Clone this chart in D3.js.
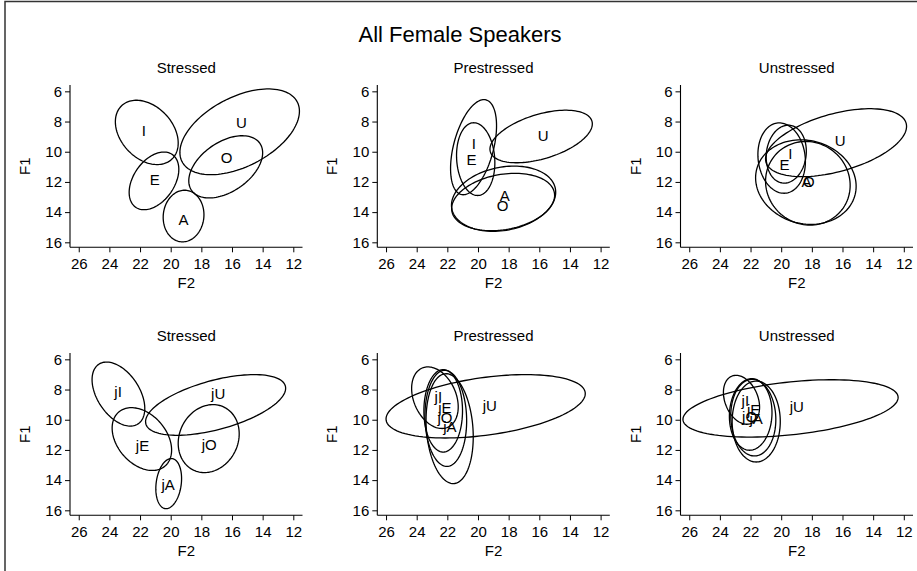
<!DOCTYPE html>
<html>
<head>
<meta charset="utf-8">
<script src="https://cdn.jsdelivr.net/npm/d3@7"></script>
<style>
  body { margin: 0; background: #fff; }
  text { font-family: "Liberation Sans", Arial, Helvetica, sans-serif; fill: #000; }
</style>
</head>
<body>
<svg id="chart" width="917" height="571"></svg>
<script>
// ---- data -------------------------------------------------------------
const chartTitle = "All Female Speakers";
const stressLevels = ["Stressed", "Prestressed", "Unstressed"];
const xTickValues = [26, 24, 22, 20, 18, 16, 14, 12];
const yTickValues = [6, 8, 10, 12, 14, 16];

// columns: vowel, mean F2, mean F1, F2 half-width, F1 half-height,
//          F2/F1 correlation, label F2, label F1
const plainStressed = [
  ["I", 21.56, 8.72, 2.05, 2.13, -0.33, 21.75, 8.60],
  ["E", 21.09, 11.93, 1.62, 1.91, 0.40, 21.04, 11.85],
  ["A", 19.16, 14.26, 1.33, 1.71, 0.05, 19.16, 14.50],
  ["O", 16.41, 11.00, 2.41, 2.06, 0.45, 16.35, 10.37],
  ["U", 15.50, 8.68, 3.90, 2.84, 0.48, 15.38, 8.05]
];
const plainPrestressed = [
  ["I", 20.29, 9.70, 1.50, 3.15, 0.45, 20.27, 9.49],
  ["E", 20.15, 10.49, 1.25, 2.41, -0.10, 20.42, 10.55],
  ["A", 18.33, 13.11, 3.40, 2.16, 0.20, 18.25, 12.90],
  ["O", 18.36, 13.33, 3.36, 1.90, 0.23, 18.40, 13.58],
  ["U", 15.88, 8.99, 3.34, 1.74, 0.48, 15.75, 8.90]
];
const plainUnstressed = [
  ["I", 19.67, 10.16, 1.31, 1.92, 0.10, 19.40, 10.11],
  ["E", 19.97, 10.42, 1.55, 2.33, -0.10, 19.79, 10.88],
  ["A", 18.39, 12.01, 3.28, 2.80, -0.10, 18.35, 11.98],
  ["O", 18.26, 12.09, 2.76, 2.77, -0.05, 18.20, 11.98],
  ["U", 16.42, 9.40, 4.60, 2.25, 0.48, 16.15, 9.23]
];
const palatalStressed = [
  ["jI", 23.41, 8.30, 1.72, 2.12, -0.45, 23.43, 8.16],
  ["jE", 21.88, 11.28, 1.94, 2.08, -0.35, 21.84, 11.70],
  ["jA", 20.13, 14.23, 0.84, 1.66, 0.20, 20.17, 14.28],
  ["jO", 17.52, 11.25, 1.99, 2.25, 0.14, 17.49, 11.65],
  ["jU", 17.07, 9.02, 4.57, 2.01, 0.55, 16.90, 8.27]
];
const palatalPrestressed = [
  ["jI", 22.81, 8.54, 1.52, 2.04, -0.30, 22.59, 8.50],
  ["jE", 22.27, 9.41, 1.26, 2.73, 0.00, 22.16, 9.22],
  ["jA", 21.85, 10.59, 1.54, 3.64, -0.15, 21.83, 10.48],
  ["jO", 22.10, 9.91, 1.36, 3.18, -0.05, 22.16, 9.86],
  ["jU", 19.50, 9.11, 6.50, 2.10, 0.40, 19.23, 9.05]
];
const palatalUnstressed = [
  ["jI", 22.59, 8.68, 1.18, 1.62, -0.30, 22.34, 8.72],
  ["jE", 21.99, 9.65, 1.39, 2.37, 0.05, 21.80, 9.35],
  ["jA", 21.63, 10.12, 1.57, 2.68, 0.00, 21.64, 9.93],
  ["jO", 21.82, 9.86, 1.47, 2.54, -0.05, 22.06, 9.77],
  ["jU", 19.39, 9.25, 7.02, 1.90, 0.38, 18.98, 9.16]
];

const panelRows = [
  [plainStressed, plainPrestressed, plainUnstressed],
  [palatalStressed, palatalPrestressed, palatalUnstressed]
];

// ---- layout -----------------------------------------------------------
const W = 917, H = 571;
const colLeft = [70, 377.3, 680.5];
const rowTop = [85, 353];
const plotW = 232.5, plotH = 162.3;
const xDomain = [26.57, 11.4];   // F2 reversed
const yDomain = [5.58, 16.33];   // F1 grows downward
const fontFamily = '"Liberation Sans", Arial, Helvetica, sans-serif';

const svg = d3.select("#chart");

// outer frame
svg.append("rect")
  .attr("x", 5).attr("y", 1.5)
  .attr("width", W + 20).attr("height", H + 20)
  .attr("fill", "none").attr("stroke", "#333").attr("stroke-width", 1.5);

svg.append("text")
  .attr("x", 460).attr("y", 42)
  .attr("text-anchor", "middle")
  .style("font-size", "22px")
  .text(chartTitle);

const steps = d3.range(0, 120).map(i => i / 120 * 2 * Math.PI);

panelRows.forEach((row, ri) => {
  row.forEach((rowsData, ci) => {
    const x0 = colLeft[ci], y0 = rowTop[ri];
    const x = d3.scaleLinear().domain(xDomain).range([x0, x0 + plotW]);
    const y = d3.scaleLinear().domain(yDomain).range([y0, y0 + plotH]);
    const g = svg.append("g");

    // panel title
    g.append("text")
      .attr("x", x0 + plotW / 2).attr("y", y0 - 12)
      .attr("text-anchor", "middle")
      .style("font-size", "15px")
      .text(stressLevels[ci]);

    // axes: ticks from d3, plain lines meeting at the corner
    const yAxis = d3.axisLeft(y).tickValues(yTickValues).tickSize(5).tickPadding(3);
    const xAxis = d3.axisBottom(x).tickValues(xTickValues).tickSize(5).tickPadding(6);
    const ya = g.append("g").attr("transform", `translate(${x0},0)`).call(yAxis);
    const xa = g.append("g").attr("transform", `translate(0,${y0 + plotH})`).call(xAxis);
    [ya, xa].forEach(a => {
      a.select(".domain").remove();
      a.selectAll(".tick line").attr("stroke", "#000").attr("stroke-width", 1);
      a.selectAll(".tick text")
        .style("font-size", "15px")
        .style("font-family", fontFamily)
        .attr("fill", "#000");
    });
    g.append("line")
      .attr("x1", x0).attr("x2", x0).attr("y1", y0).attr("y2", y0 + plotH)
      .attr("stroke", "#000").attr("stroke-width", 1.1);
    g.append("line")
      .attr("x1", x0).attr("x2", x0 + plotW).attr("y1", y0 + plotH).attr("y2", y0 + plotH)
      .attr("stroke", "#000").attr("stroke-width", 1.1);

    // axis titles
    g.append("text")
      .attr("x", x0 + plotW / 2).attr("y", y0 + plotH + 41)
      .attr("text-anchor", "middle")
      .style("font-size", "15px")
      .text("F2");
    g.append("text")
      .attr("transform", `translate(${x0 - 40},${y0 + plotH / 2}) rotate(-90)`)
      .attr("text-anchor", "middle")
      .style("font-size", "15px")
      .text("F1");

    // ellipses
    const line = d3.line()
      .x(p => x(p[0])).y(p => y(p[1]))
      .curve(d3.curveLinearClosed);
    rowsData.forEach(([vowel, m2, m1, h2, h1, r]) => {
      const s = Math.sqrt(1 - r * r);
      const pts = steps.map(t => [
        m2 + h2 * Math.cos(t),
        m1 + h1 * (r * Math.cos(t) + s * Math.sin(t))
      ]);
      g.append("path")
        .attr("d", line(pts))
        .attr("fill", "none")
        .attr("stroke", "#000")
        .attr("stroke-width", 1.3);
    });

    // vowel labels
    rowsData.forEach(([vowel, , , , , , lx, ly]) => {
      g.append("text")
        .attr("x", x(lx)).attr("y", y(ly))
        .attr("dy", "0.36em")
        .attr("text-anchor", "middle")
        .style("font-size", "15px")
        .text(vowel);
    });
  });
});
</script>
</body>
</html>
